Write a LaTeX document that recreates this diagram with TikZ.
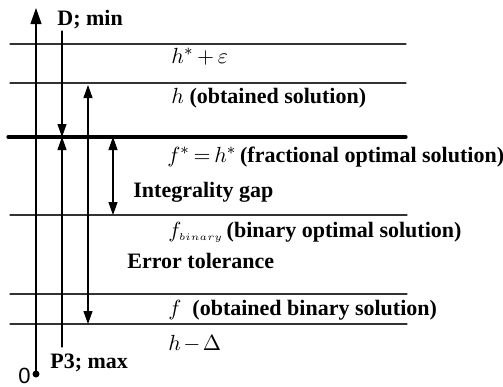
\documentclass[tikz,border=0pt]{standalone}
\usepackage{fontspec}
\setmainfont{Liberation Serif}
\newfontfamily\zerofont{Liberation Sans}
\usepackage{tkz-euclide}
\usetikzlibrary{arrows.meta}

\begin{document}
\begin{tikzpicture}[x=0.5pt, y=-0.5pt,
  font=\fontsize{11}{13}\selectfont\bfseries,
  level/.style={draw=black!80, line width=0.6pt},
  tip/.style={line width=0.6pt, -{Triangle[length=6.5pt, width=4.5pt]}},
  tips/.style={line width=0.6pt, {Triangle[length=6.5pt, width=4.5pt]}-{Triangle[length=6.5pt, width=4.5pt]}},
  lab/.style={anchor=base west, inner sep=0pt}]
\useasboundingbox (0,0) rectangle (503,386);

% Levels of the objective
\tkzDefPoints{10/44/A1, 406/44/B1, 10/83/A2, 406/83/B2, 8/137/A3, 406/137/B3}
\tkzDefPoints{10/215/A4, 407/215/B4, 10/294/A5, 407/294/B5, 10/324/A6, 407/324/B6}
\tkzDrawSegments[level](A1,B1 A2,B2 A4,B4 A5,B5 A6,B6)
\tkzDrawSegment[line width=1.6pt](A3,B3)

% Axis with origin O
\tkzDefPoints{36/374/O, 36/8/T}
\tkzDrawSegment[line width=0.6pt, -{Triangle[length=8pt, width=5.5pt]}](O,T)
\fill (O) circle (3.5);

% Arrows D and P3
\tkzDefPoints{62/31/D, 62/137/M, 62/347/P}
\tkzDrawSegment[tip](D,M)
\tkzDrawSegment[tip](P,M)

% Gap and tolerance
\tkzDefPoints{88/85/E1, 88/324/E2, 113/137/G1, 113/215/G2}
\tkzDrawSegment[tips](E1,E2)
\tkzDrawSegment[tips](G1,G2)

% Labels
\node[lab] (dmin) at (57,25) {D; min};
\node[lab] (heps) at (171,63) {$h^{*}\mkern3mu{+}\mkern3mu\varepsilon$};
\node[lab] (hobt) at (171,103) {$h$ (obtained solution)};
\node[lab] (fstar) at (167,162) {$f^{*}\mkern3mu{=}\mkern3mu h^{*}$\,(fractional optimal solution)};
\node[lab] (gap) at (133,197) {Integrality gap};
\node[lab] (fbin) at (168,237) {$f_{\scriptscriptstyle binary}$\,(binary optimal solution)};
\node[lab] (tol) at (127,268) {Error tolerance};
\node[lab] (fobt) at (168,315) {$f$ \ (obtained binary solution)};
\node[lab] (hdel) at (168,350) {$h\mkern2mu{-}\mkern2mu\Delta$};
\node[lab] (pmax) at (50,368) {P3; max};
\node[lab, font=\zerofont\fontsize{11}{13}\selectfont] (zero) at (18,383) {0};

\end{tikzpicture}
\end{document}
